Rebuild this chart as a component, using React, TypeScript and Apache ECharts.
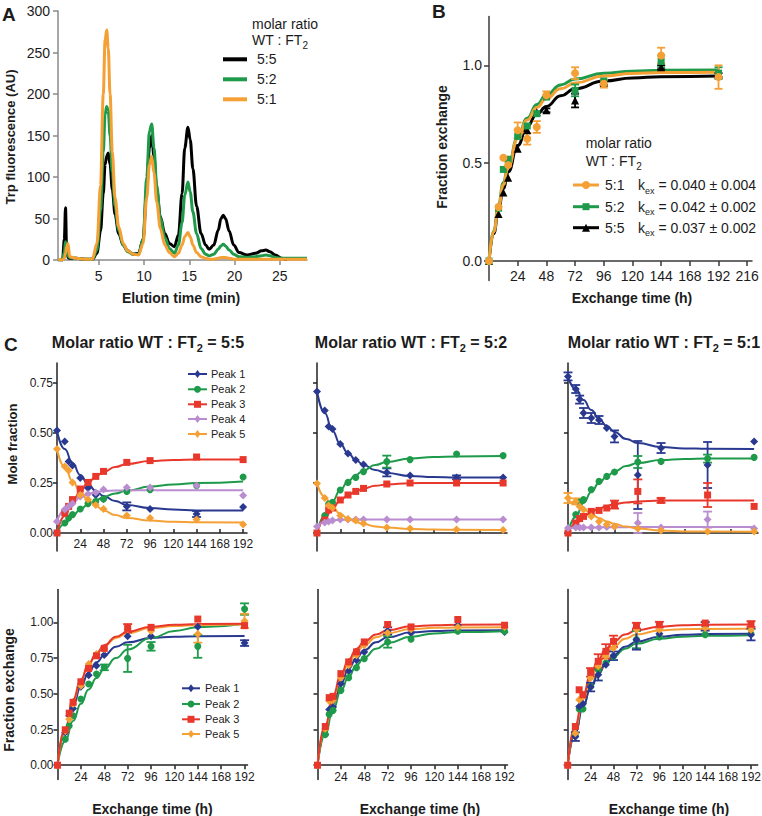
import React, { useEffect, useRef } from "react";
import * as echarts from "echarts";

const FONT = "'Liberation Sans', Arial, Helvetica, sans-serif";
const INK = "#1c1c1c";

// ---------------- Panel A : chromatograms ----------------
const A_TIME = [0.5, 1.0, 1.2, 1.33, 1.45, 1.6, 1.8, 2.5, 3.5, 4.3, 4.8, 5.2, 5.5, 5.7, 5.88, 6.05, 6.25, 6.5, 6.8, 7.2, 7.7, 8.2, 8.8, 9.4, 9.9, 10.3, 10.6, 10.85, 11.1, 11.4, 11.8, 12.3, 12.8, 13.35, 13.8, 14.2, 14.5, 14.85, 15.1, 15.4, 15.8, 16.3, 16.8, 17.2, 17.7, 18.2, 18.5, 18.75, 19.0, 19.4, 19.9, 20.5, 21.4, 22.3, 23.0, 23.45, 23.9, 24.5, 25.2, 25.8, 26.5, 28];
const A_55 = [0, 0, 25, 63, 12, 3, 2, 2, 1, 1, 8, 35, 80, 115, 125, 129, 115, 85, 55, 32, 18, 11, 7, 8, 25, 85, 135, 150, 125, 85, 52, 32, 20, 16, 30, 80, 135, 160, 145, 110, 65, 32, 18, 13, 18, 36, 50, 54, 50, 35, 18, 9, 6, 8, 11, 12, 10, 6, 2, 0, null, null];
const A_52 = [1, 0, 10, 22, 14, 5, 3, 2, 1, 1, 12, 60, 130, 175, 185, 180, 150, 105, 65, 36, 18, 10, 7, 7, 25, 100, 155, 164, 135, 90, 50, 27, 14, 8, 18, 45, 78, 94, 82, 58, 32, 14, 7, 5, 7, 13, 17, 19, 17, 12, 7, 4, 3, 4, 5, 6, 5, 3, 2, 2, 2, 2];
const A_51 = [1, 0, 2, 8, 16, 20, 4, 2, 1, 1, 20, 90, 200, 265, 277, 255, 200, 130, 75, 40, 20, 11, 7, 6, 20, 75, 115, 125, 105, 70, 38, 18, 9, 4, 8, 18, 28, 33, 28, 18, 9, 4, 2, 1, 1, 2, 3, 3, 3, 2, 1, 1, 1, 1, 1, 1, 1, 1, 1, 1, 1, 1];
const A_X_TICKS = [5, 10, 15, 20, 25];
const A_Y_TICKS = [0, 50, 100, 150, 200, 250, 300];
const A_NAMES = ["5:5", "5:2", "5:1"];

// ---------------- Panel B : fraction exchange by ratio ----------------
const B_T = [0, 8, 12, 16, 24, 32, 40, 48, 72, 96, 144, 192];
const B_51 = [0, 0.276, 0.528, 0.49, 0.668, 0.625, 0.685, 0.847, 0.96, 0.906, 1.05, 0.94];
const B_51_SD = [0, 0, 0, 0, 0.04, 0.03, 0.03, 0.02, 0.03, 0.02, 0.04, 0.06];
const B_52 = [0, 0.27, 0.468, 0.52, 0.637, 0.69, 0.753, 0.838, 0.872, 0.92, 1.02, 0.96];
const B_52_SD = [0, 0, 0, 0, 0, 0, 0, 0, 0.03, 0, 0.03, 0.03];
const B_55 = [0, 0.24, 0.35, 0.425, 0.574, 0.668, 0.76, 0.77, 0.82, 0.91, 0.99, 0.95];
const B_55_SD = [0, 0, 0, 0, 0, 0, 0, 0.01, 0.035, 0.01, 0.01, 0.01];
const B_FIT_T = [0, 4, 8, 12, 16, 24, 32, 40, 48, 60, 72, 96, 120, 144, 192];
const B_51_FIT = [0, 0.15, 0.28, 0.39, 0.48, 0.625, 0.72, 0.785, 0.83, 0.88, 0.91, 0.945, 0.958, 0.963, 0.965];
const B_52_FIT = [0, 0.155, 0.29, 0.4, 0.49, 0.63, 0.73, 0.8, 0.85, 0.9, 0.93, 0.96, 0.97, 0.975, 0.976];
const B_55_FIT = [0, 0.14, 0.265, 0.37, 0.455, 0.59, 0.69, 0.75, 0.79, 0.845, 0.88, 0.92, 0.935, 0.942, 0.945];
const B_X_TICKS = [24, 48, 72, 96, 120, 144, 168, 192, 216];
const B_Y_TICKS = [0, 0.5, 1.0];
const B_KEX = ["k_ex = 0.040 ± 0.004", "k_ex = 0.042 ± 0.002", "k_ex = 0.037 ± 0.002"];

// ---------------- Panel C ----------------
const PT = [0, 8, 12, 16, 24, 32, 40, 48, 72, 96, 144, 192];
const CT = [0, 8, 16, 24, 32, 40, 48, 60, 72, 96, 120, 144, 192];
const NO_SD = [0, 0, 0, 0, 0, 0, 0, 0, 0, 0, 0, 0];
const C_X_TICKS = [24, 48, 72, 96, 120, 144, 168, 192];
const C_MOLE_TICKS = [0, 0.25, 0.5, 0.75];
const C_FRAC_TICKS = [0, 0.25, 0.5, 0.75, 1.0];
const C_TITLES = ["5:5", "5:2", "5:1"];

// C1: mole fraction, 5:5
const C1_P1 = [0.512, 0.458, 0.358, 0.338, 0.275, 0.225, 0.19, 0.17, 0.133, 0.12, 0.095, 0.13];
const C1_P1_SD = [0, 0, 0, 0, 0, 0, 0, 0, 0.02, 0, 0.015, 0];
const C1_P2 = [0, 0.05, 0.075, 0.092, 0.12, 0.147, 0.158, 0.17, 0.208, 0.217, 0.237, 0.28];
const C1_P3 = [0, 0.1, 0.133, 0.167, 0.22, 0.253, 0.283, 0.308, 0.353, 0.362, 0.38, 0.367];
const C1_P4 = [0.058, 0.117, 0.133, 0.147, 0.183, 0.195, 0.203, 0.217, 0.228, 0.228, 0.237, 0.187];
const C1_P5 = [0.42, 0.333, 0.313, 0.253, 0.19, 0.167, 0.14, 0.12, 0.087, 0.075, 0.067, 0.042];
const C1_P1_FIT = [0.51, 0.42, 0.35, 0.29, 0.245, 0.21, 0.185, 0.16, 0.14, 0.125, 0.117, 0.113, 0.112];
const C1_P2_FIT = [0, 0.045, 0.085, 0.118, 0.143, 0.163, 0.18, 0.198, 0.212, 0.232, 0.243, 0.25, 0.258];
const C1_P3_FIT = [0, 0.085, 0.155, 0.21, 0.25, 0.283, 0.305, 0.33, 0.345, 0.36, 0.365, 0.367, 0.368];
const C1_P4_FIT = [0.06, 0.115, 0.15, 0.178, 0.195, 0.205, 0.21, 0.212, 0.213, 0.214, 0.214, 0.214, 0.214];
const C1_P5_FIT = [0.42, 0.33, 0.26, 0.205, 0.165, 0.135, 0.113, 0.09, 0.075, 0.062, 0.056, 0.054, 0.053];

// C2: mole fraction, 5:2
const C2_P1 = [0.707, 0.612, 0.532, 0.52, 0.445, 0.398, 0.365, 0.342, 0.303, 0.287, 0.278, 0.278];
const C2_P1_SD = [0, 0, 0, 0, 0, 0, 0, 0, 0.02, 0, 0.01, 0];
const C2_P2 = [0, 0.087, 0.145, 0.153, 0.215, 0.253, 0.278, 0.307, 0.357, 0.367, 0.395, 0.387];
const C2_P2_SD = [0, 0, 0, 0, 0, 0, 0, 0, 0.03, 0, 0, 0];
const C2_P3 = [0, 0.065, 0.115, 0.125, 0.165, 0.19, 0.208, 0.223, 0.245, 0.25, 0.25, 0.25];
const C2_P4 = [0.032, 0.053, 0.058, 0.062, 0.067, 0.067, 0.067, 0.067, 0.067, 0.067, 0.067, 0.067];
const C2_P5 = [0.248, 0.175, 0.137, 0.125, 0.087, 0.07, 0.062, 0.048, 0.028, 0.023, 0.017, 0.015];
const C2_P1_FIT = [0.71, 0.6, 0.51, 0.445, 0.4, 0.365, 0.34, 0.315, 0.3, 0.285, 0.28, 0.278, 0.277];
const C2_P2_FIT = [0, 0.085, 0.16, 0.215, 0.258, 0.29, 0.313, 0.34, 0.355, 0.372, 0.38, 0.383, 0.385];
const C2_P3_FIT = [0, 0.07, 0.125, 0.163, 0.19, 0.208, 0.222, 0.236, 0.243, 0.249, 0.25, 0.25, 0.25];
const C2_P4_FIT = [0.03, 0.055, 0.063, 0.066, 0.067, 0.067, 0.067, 0.067, 0.067, 0.067, 0.067, 0.067, 0.067];
const C2_P5_FIT = [0.25, 0.18, 0.13, 0.095, 0.072, 0.055, 0.045, 0.033, 0.027, 0.02, 0.017, 0.016, 0.015];

// C3: mole fraction, 5:1
const C3_P1 = [0.783, 0.72, 0.667, 0.6, 0.575, 0.565, 0.525, 0.483, 0.29, 0.425, 0.34, 0.458];
const C3_P1_SD = [0.02, 0.02, 0.02, 0.025, 0.025, 0.02, 0, 0.03, 0.17, 0.025, 0.115, 0];
const C3_P2 = [0, 0.092, 0.155, 0.167, 0.217, 0.258, 0.283, 0.305, 0.355, 0.358, 0.372, 0.378];
const C3_P2_SD = [0, 0, 0, 0, 0, 0, 0, 0, 0.03, 0, 0.02, 0];
const C3_P3 = [0, 0.05, 0.072, 0.083, 0.108, 0.113, 0.125, 0.142, 0.208, 0.163, 0.19, 0.133];
const C3_P3_SD = [0, 0, 0, 0, 0, 0, 0, 0.02, 0.06, 0.012, 0.06, 0];
const C3_P4 = [0.025, 0.028, 0.028, 0.028, 0.028, 0.028, 0.03, 0.032, 0.05, 0.028, 0.067, 0.022];
const C3_P4_SD = [0, 0, 0, 0, 0, 0, 0, 0, 0.05, 0, 0.04, 0];
const C3_P5 = [0.175, 0.158, 0.133, 0.117, 0.083, 0.058, 0.042, 0.033, 0.022, 0.012, 0.008, 0.008];
const C3_P5_SD = [0.025, 0.015, 0, 0, 0, 0, 0, 0, 0, 0, 0, 0];
const C3_P1_FIT = [0.78, 0.72, 0.665, 0.615, 0.57, 0.535, 0.505, 0.47, 0.45, 0.43, 0.423, 0.421, 0.42];
const C3_P2_FIT = [0, 0.08, 0.15, 0.205, 0.25, 0.283, 0.308, 0.335, 0.35, 0.365, 0.37, 0.372, 0.373];
const C3_P3_FIT = [0, 0.045, 0.08, 0.105, 0.122, 0.135, 0.145, 0.153, 0.158, 0.162, 0.163, 0.163, 0.163];
const C3_P4_FIT = [0.025, 0.026, 0.027, 0.028, 0.028, 0.029, 0.029, 0.029, 0.03, 0.03, 0.03, 0.03, 0.03];
const C3_P5_FIT = [0.17, 0.145, 0.12, 0.095, 0.075, 0.058, 0.045, 0.032, 0.022, 0.012, 0.008, 0.007, 0.006];

// C4: fraction exchange, 5:5
const C4_P1 = [0, 0.229, 0.346, 0.397, 0.549, 0.63, 0.696, 0.771, 0.902, 0.902, 0.97, 0.855];
const C4_P1_SD = [0, 0, 0, 0, 0, 0, 0, 0, 0, 0, 0, 0.02];
const C4_P2 = [0, 0.182, 0.276, 0.346, 0.463, 0.568, 0.638, 0.685, 0.748, 0.832, 0.832, 1.093];
const C4_P2_SD = [0, 0, 0, 0, 0, 0, 0, 0.02, 0.095, 0.03, 0.08, 0.04];
const C4_P3 = [0, 0.248, 0.364, 0.44, 0.584, 0.678, 0.766, 0.818, 0.958, 0.965, 1.023, 0.977];
const C4_P3_SD = [0, 0, 0, 0, 0, 0, 0, 0, 0.03, 0, 0, 0];
const C4_P5 = [0, 0.24, 0.322, 0.428, 0.556, 0.708, 0.778, 0.813, 0.953, 0.94, 0.918, 1.01];
const C4_P5_SD = [0, 0, 0, 0, 0, 0, 0, 0, 0, 0, 0.06, 0.05];
const C4_P1_FIT = [0, 0.24, 0.42, 0.55, 0.65, 0.72, 0.77, 0.83, 0.86, 0.89, 0.9, 0.903, 0.905];
const C4_P2_FIT = [0, 0.17, 0.31, 0.43, 0.53, 0.61, 0.675, 0.75, 0.81, 0.89, 0.94, 0.965, 0.99];
const C4_P3_FIT = [0, 0.26, 0.46, 0.6, 0.71, 0.785, 0.84, 0.9, 0.935, 0.97, 0.983, 0.988, 0.99];
const C4_P5_FIT = [0, 0.25, 0.45, 0.595, 0.705, 0.78, 0.835, 0.89, 0.925, 0.96, 0.975, 0.982, 0.985];

// C5: fraction exchange, 5:2
const C5_P1 = [0, 0.215, 0.39, 0.407, 0.571, 0.66, 0.734, 0.793, 0.94, 0.926, 0.98, 0.933];
const C5_P1_SD = [0, 0, 0, 0, 0, 0, 0, 0, 0.025, 0, 0, 0];
const C5_P2 = [0, 0.215, 0.356, 0.384, 0.524, 0.613, 0.683, 0.746, 0.863, 0.882, 0.938, 0.938];
const C5_P2_SD = [0, 0, 0, 0, 0, 0, 0, 0, 0.04, 0, 0, 0];
const C5_P3 = [0, 0.271, 0.473, 0.482, 0.641, 0.723, 0.793, 0.863, 0.985, 0.968, 1.02, 0.98];
const C5_P5 = [0, 0.255, 0.449, 0.454, 0.613, 0.7, 0.77, 0.84, 0.926, 0.952, 0.968, 0.968];
const C5_P1_FIT = [0, 0.24, 0.43, 0.57, 0.675, 0.75, 0.805, 0.86, 0.895, 0.93, 0.94, 0.943, 0.945];
const C5_P2_FIT = [0, 0.22, 0.39, 0.52, 0.62, 0.7, 0.755, 0.815, 0.855, 0.9, 0.922, 0.932, 0.938];
const C5_P3_FIT = [0, 0.28, 0.49, 0.635, 0.74, 0.815, 0.865, 0.915, 0.945, 0.972, 0.98, 0.983, 0.985];
const C5_P5_FIT = [0, 0.265, 0.465, 0.61, 0.715, 0.79, 0.84, 0.895, 0.925, 0.953, 0.962, 0.964, 0.965];

// C6: fraction exchange, 5:1
const C6_P1 = [0, 0.2, 0.411, 0.43, 0.547, 0.633, 0.703, 0.766, 0.879, 0.92, 0.972, 0.914];
const C6_P1_SD = [0, 0.03, 0, 0, 0.03, 0.04, 0, 0.03, 0.07, 0, 0.03, 0.04];
const C6_P2 = [0, 0.21, 0.393, 0.393, 0.551, 0.668, 0.715, 0.762, 0.879, 0.897, 0.914, 0.92];
const C6_P2_SD = [0, 0, 0, 0, 0, 0, 0, 0, 0.06, 0, 0, 0];
const C6_P3 = [0, 0.271, 0.528, 0.493, 0.65, 0.727, 0.797, 0.867, 0.977, 0.984, 0.995, 0.988];
const C6_P3_SD = [0, 0, 0, 0, 0.03, 0.05, 0.05, 0.04, 0.02, 0.02, 0, 0.02];
const C6_P5 = [0, 0.224, 0.458, 0.493, 0.61, 0.692, 0.762, 0.82, 0.949, 0.949, 0.96, 0.949];
const C6_P1_FIT = [0, 0.23, 0.41, 0.54, 0.64, 0.715, 0.77, 0.83, 0.865, 0.9, 0.913, 0.918, 0.92];
const C6_P2_FIT = [0, 0.23, 0.41, 0.54, 0.635, 0.71, 0.76, 0.815, 0.85, 0.885, 0.9, 0.906, 0.91];
const C6_P3_FIT = [0, 0.28, 0.49, 0.635, 0.74, 0.815, 0.865, 0.915, 0.945, 0.97, 0.98, 0.984, 0.985];
const C6_P5_FIT = [0, 0.26, 0.46, 0.6, 0.705, 0.78, 0.83, 0.885, 0.915, 0.943, 0.952, 0.954, 0.955];

// ---------------- styles ----------------
const COL = {
  black: "#000000",
  green: "#1e9a4a",
  orange: "#f5a035",
  p1: "#2a3990",
  p2: "#1e9a4a",
  p3: "#e8382b",
  p4: "#b98dd0",
  p5: "#f5a035",
};
const PEAK_STYLE: any = {
  1: { color: COL.p1, symbol: "diamond", size: 8 },
  2: { color: COL.p2, symbol: "circle", size: 7 },
  3: { color: COL.p3, symbol: "rect", size: 7 },
  4: { color: COL.p4, symbol: "diamond", size: 8 },
  5: { color: COL.p5, symbol: "diamond", size: 8 },
};

const zip = (xs: number[], ys: (number | null)[]) =>
  xs.map((x, i) => [x, ys[i]]).filter((d) => d[1] !== null && d[1] !== undefined);

function errRender(color: string, cap: number, lw: number) {
  return (params: any, api: any) => {
    const x = api.value(0);
    const y = api.value(1);
    const e = api.value(2);
    if (!e) return null;
    const a = api.coord([x, y + e]);
    const b = api.coord([x, y - e]);
    const st = { stroke: color, lineWidth: lw };
    return {
      type: "group",
      children: [
        { type: "line", shape: { x1: a[0], y1: a[1], x2: b[0], y2: b[1] }, style: st },
        { type: "line", shape: { x1: a[0] - cap, y1: a[1], x2: a[0] + cap, y2: a[1] }, style: st },
        { type: "line", shape: { x1: b[0] - cap, y1: b[1], x2: b[0] + cap, y2: b[1] }, style: st },
      ],
    };
  };
}

function dataSeries(gi: number, name: string, color: string, symbol: string, size: number, ts: number[], pts: number[], sd: number[], fitT: number[], fit: number[], lw: number, cap: number) {
  return [
    {
      type: "line", name, xAxisIndex: gi, yAxisIndex: gi, data: zip(fitT, fit),
      showSymbol: false, symbol: "none", smooth: 0.5, smoothMonotone: "x",
      lineStyle: { color, width: lw }, z: 2, silent: true,
    },
    {
      type: "custom", name, xAxisIndex: gi, yAxisIndex: gi,
      dimensions: ["t", "v", "sd"], encode: { x: 0, y: 1 },
      data: ts.map((t, i) => [t, pts[i], sd[i]]).filter((d) => d[2] > 0),
      renderItem: errRender(color, cap, 1.8), z: 3, silent: true,
    },
    {
      type: "scatter", name, xAxisIndex: gi, yAxisIndex: gi, data: zip(ts, pts),
      symbol, symbolSize: size, itemStyle: { color, opacity: 1 }, z: 4, silent: true,
    },
  ];
}

function axis(o: any) {
  return {
    type: "value",
    gridIndex: o.grid,
    min: o.min,
    max: o.max,
    offset: o.offset ?? 0,
    axisLine: { show: true, onZero: false, lineStyle: { color: o.color, width: o.lw ?? 1.5 } },
    axisTick: {
      show: true, inside: !!o.inside, length: o.tickLen ?? 5, customValues: o.ticks,
      lineStyle: { color: o.color, width: o.lw ?? 1.5 },
    },
    axisLabel: {
      show: o.labels !== false, customValues: o.ticks, formatter: o.fmt,
      fontSize: o.fs, fontFamily: FONT, color: INK, margin: o.margin,
    },
    splitLine: { show: false },
  };
}

const txt = (x: number, y: number, text: string, size: number, weight = "normal", align = "left", rotation = 0) => ({
  type: "text", x, y, rotation, z: 100,
  style: { text, fontSize: size, fontWeight: weight, fontFamily: FONT, fill: INK, align, verticalAlign: "middle" },
});

const subTxt = (x: number, y: number, pre: string, sub: string, post: string, size: number, subSize: number, weight = "normal", align = "left") => ({
  type: "text", x, y, z: 100,
  style: {
    text: `{n|${pre}}{s|${sub}}` + (post ? `{n|${post}}` : ""),
    align, verticalAlign: "middle",
    rich: {
      n: { fontSize: size, fontWeight: weight, fontFamily: FONT, fill: INK, lineHeight: Math.round(size * 1.4) },
      s: { fontSize: subSize, fontWeight: weight, fontFamily: FONT, fill: INK, lineHeight: 10, verticalAlign: "bottom" },
    },
  },
});

function marker(kind: string, cx: number, cy: number, size: number, color: string) {
  const h = size / 2;
  if (kind === "circle") return { type: "circle", shape: { cx, cy, r: h }, style: { fill: color }, z: 101 };
  if (kind === "rect") return { type: "rect", shape: { x: cx - h, y: cy - h, width: size, height: size }, style: { fill: color }, z: 101 };
  if (kind === "triangle") return { type: "polygon", shape: { points: [[cx, cy - h], [cx + h, cy + h], [cx - h, cy + h]] }, style: { fill: color }, z: 101 };
  return { type: "polygon", shape: { points: [[cx, cy - h], [cx + h * 0.75, cy], [cx, cy + h], [cx - h * 0.75, cy]] }, style: { fill: color }, z: 101 };
}

const legLine = (x1: number, x2: number, y: number, color: string, lw: number) => ({
  type: "line", shape: { x1, y1: y, x2, y2: y }, style: { stroke: color, lineWidth: lw }, z: 100,
});

function buildOption() {
  // grid geometry
  const B_H = 264.2, B_MIN = -0.1, B_MAX = 1.25;
  const CT_H = 188, CT_MIN = -0.09, CT_MAX = 0.85;
  const CB_H = 190, CB_MIN = -0.1, CB_MAX = 1.23;
  const grids = [
    { left: 58, top: 11, width: 249, height: 249 },
    { left: 489, top: 16.4, width: 263, height: B_H },
    { left: 57, top: 363, width: 190, height: CT_H },
    { left: 317, top: 363, width: 190, height: CT_H },
    { left: 568, top: 363, width: 190, height: CT_H },
    { left: 57.5, top: 589.5, width: 190, height: CB_H },
    { left: 317.5, top: 589.5, width: 190, height: CB_H },
    { left: 567.7, top: 589.5, width: 190, height: CB_H },
  ].map((g) => ({ ...g, containLabel: false, outerBoundsMode: "none", show: false }));
  // shift x axes up so they cross the y axis at 0 (y axes extend below 0)
  const bOff = -(-B_MIN / (B_MAX - B_MIN)) * B_H;
  const ctOff = -(-CT_MIN / (CT_MAX - CT_MIN)) * CT_H;
  const cbOff = -(-CB_MIN / (CB_MAX - CB_MIN)) * CB_H;

  const xAxes: any[] = [
    axis({ grid: 0, min: 0.5, max: 28, color: "#8a8a8a", ticks: A_X_TICKS, fs: 14, margin: 9, tickLen: 5 }),
    axis({ grid: 1, min: 0, max: 220, color: "#3a3a3a", ticks: B_X_TICKS, fs: 14, margin: 8, tickLen: 5, offset: bOff }),
  ];
  const yAxes: any[] = [
    axis({ grid: 0, min: 0, max: 300, color: "#8a8a8a", ticks: A_Y_TICKS, fs: 14, margin: 8, tickLen: 5 }),
    axis({ grid: 1, min: B_MIN, max: B_MAX, color: "#3a3a3a", ticks: B_Y_TICKS, fs: 14, margin: 7, tickLen: 5, fmt: (v: number) => v.toFixed(1) }),
  ];
  for (let i = 0; i < 3; i++) {
    xAxes.push(axis({ grid: 2 + i, min: 0, max: 196, color: "#222", ticks: C_X_TICKS, fs: 12, margin: 5, tickLen: 4, inside: true, labels: i === 0, offset: ctOff }));
    yAxes.push(axis({ grid: 2 + i, min: CT_MIN, max: CT_MAX, color: "#222", ticks: C_MOLE_TICKS, fs: 12, margin: 4, tickLen: 4, labels: i === 0, fmt: (v: number) => v.toFixed(2) }));
  }
  const bottomMax = [195, 195, 199];
  for (let i = 0; i < 3; i++) {
    xAxes.push(axis({ grid: 5 + i, min: 0, max: bottomMax[i], color: "#222", ticks: C_X_TICKS, fs: 12, margin: 6, tickLen: 4, offset: cbOff }));
    yAxes.push(axis({ grid: 5 + i, min: CB_MIN, max: CB_MAX, color: "#222", ticks: C_FRAC_TICKS, fs: 12, margin: 4, tickLen: 4, labels: i === 0, fmt: (v: number) => v.toFixed(2) }));
  }

  const series: any[] = [];
  // Panel A
  const aCols = [COL.black, COL.green, COL.orange];
  [A_55, A_52, A_51].forEach((vals, k) => {
    series.push({
      type: "line", name: "A " + A_NAMES[k], xAxisIndex: 0, yAxisIndex: 0,
      data: zip(A_TIME, vals), showSymbol: false, symbol: "none",
      smooth: 0.35, smoothMonotone: "x", lineStyle: { color: aCols[k], width: 3 }, z: 2 + k, silent: true,
    });
  });
  // Panel B
  series.push(...dataSeries(1, "B 5:5", COL.black, "triangle", 8, B_T, B_55, B_55_SD, B_FIT_T, B_55_FIT, 3, 4));
  series.push(...dataSeries(1, "B 5:2", COL.green, "rect", 7, B_T, B_52, B_52_SD, B_FIT_T, B_52_FIT, 3, 4));
  series.push(...dataSeries(1, "B 5:1", COL.orange, "circle", 8, B_T, B_51, B_51_SD, B_FIT_T, B_51_FIT, 3, 4));

  // Panel C
  const C_SETS: any[] = [
    { gi: 2, peaks: [[1, C1_P1, C1_P1_SD, C1_P1_FIT], [2, C1_P2, NO_SD, C1_P2_FIT], [3, C1_P3, NO_SD, C1_P3_FIT], [4, C1_P4, NO_SD, C1_P4_FIT], [5, C1_P5, NO_SD, C1_P5_FIT]] },
    { gi: 3, peaks: [[1, C2_P1, C2_P1_SD, C2_P1_FIT], [2, C2_P2, C2_P2_SD, C2_P2_FIT], [3, C2_P3, NO_SD, C2_P3_FIT], [4, C2_P4, NO_SD, C2_P4_FIT], [5, C2_P5, NO_SD, C2_P5_FIT]] },
    { gi: 4, peaks: [[1, C3_P1, C3_P1_SD, C3_P1_FIT], [2, C3_P2, C3_P2_SD, C3_P2_FIT], [3, C3_P3, C3_P3_SD, C3_P3_FIT], [4, C3_P4, C3_P4_SD, C3_P4_FIT], [5, C3_P5, C3_P5_SD, C3_P5_FIT]] },
    { gi: 5, peaks: [[1, C4_P1, C4_P1_SD, C4_P1_FIT], [2, C4_P2, C4_P2_SD, C4_P2_FIT], [5, C4_P5, C4_P5_SD, C4_P5_FIT], [3, C4_P3, C4_P3_SD, C4_P3_FIT]] },
    { gi: 6, peaks: [[1, C5_P1, C5_P1_SD, C5_P1_FIT], [2, C5_P2, C5_P2_SD, C5_P2_FIT], [5, C5_P5, NO_SD, C5_P5_FIT], [3, C5_P3, NO_SD, C5_P3_FIT]] },
    { gi: 7, peaks: [[2, C6_P2, C6_P2_SD, C6_P2_FIT], [1, C6_P1, C6_P1_SD, C6_P1_FIT], [5, C6_P5, NO_SD, C6_P5_FIT], [3, C6_P3, C6_P3_SD, C6_P3_FIT]] },
  ];
  C_SETS.forEach((set) => {
    set.peaks.forEach((p: any) => {
      const st = PEAK_STYLE[p[0]];
      series.push(...dataSeries(set.gi, "Peak " + p[0], st.color, st.symbol, st.size, PT, p[1], p[2], CT, p[3], 2, 4.5));
    });
  });

  // ---------------- graphic: labels, titles, legends ----------------
  const g: any[] = [];
  g.push(txt(2, 14, "A", 19, "bold"));
  g.push(txt(432, 11.5, "B", 19, "bold"));
  g.push(txt(4, 344, "C", 19, "bold"));

  // axis titles
  g.push(txt(10, 137, "Trp fluorescence (AU)", 13, "bold", "center", Math.PI / 2));
  g.push(txt(181, 298, "Elution time (min)", 14, "bold", "center"));
  g.push(txt(442, 147, "Fraction exchange", 14, "bold", "center", Math.PI / 2));
  g.push(txt(632, 298, "Exchange time (h)", 14, "bold", "center"));
  g.push(txt(12.5, 444, "Mole fraction", 13, "bold", "center", Math.PI / 2));
  g.push(txt(8.5, 690, "Fraction exchange", 14, "bold", "center", Math.PI / 2));
  [152.5, 420, 669].forEach((x) => g.push(txt(x, 808.5, "Exchange time (h)", 14, "bold", "center")));

  // C titles
  [148, 411, 664].forEach((x, i) => g.push(subTxt(x, 342.5, "Molar ratio WT : FT", "2", " = " + C_TITLES[i], 16, 11, "bold", "center")));

  // Legend A
  g.push(txt(252, 24, "molar ratio", 14));
  g.push(subTxt(252, 40, "WT : FT", "2", "", 14, 10));
  [59.3, 79.3, 99.3].forEach((y, k) => {
    g.push(legLine(223, 247, y, aCols[k], 4));
    g.push(txt(257, y, A_NAMES[k], 14));
  });

  // Legend B
  g.push(txt(585.7, 143.3, "molar ratio", 14));
  g.push(subTxt(585.7, 161, "WT : FT", "2", "", 14, 10));
  const bRows = [
    { y: 185, c: COL.orange, m: "circle", s: 8, n: "5:1", k: B_KEX[0] },
    { y: 206.7, c: COL.green, m: "rect", s: 7, n: "5:2", k: B_KEX[1] },
    { y: 227.7, c: COL.black, m: "triangle", s: 8, n: "5:5", k: B_KEX[2] },
  ];
  bRows.forEach((r) => {
    g.push(legLine(573, 599, r.y, r.c, 3));
    g.push(marker(r.m, 586, r.y, r.s, r.c));
    g.push(txt(605, r.y, r.n, 14));
    const parts = r.k.split("_ex");
    g.push(subTxt(638, r.y, parts[0], "ex", parts[1], 14, 9));
  });

  // Legend C (mole fraction)
  [374, 389.3, 404.3, 419, 434].forEach((y, k) => {
    const st = PEAK_STYLE[k + 1];
    g.push(legLine(188, 207, y, st.color, 2));
    g.push(marker(st.symbol, 197.5, y, st.size, st.color));
    g.push(txt(211, y, "Peak " + (k + 1), 11));
  });
  // Legend C (fraction exchange)
  [[688.3, 1], [704, 2], [719.3, 3], [734, 5]].forEach(([y, p]) => {
    const st = PEAK_STYLE[p];
    g.push(legLine(182, 200, y, st.color, 2));
    g.push(marker(st.symbol, 191, y, st.size, st.color));
    g.push(txt(205, y, "Peak " + p, 11));
  });

  return {
    animation: false,
    backgroundColor: "#ffffff",
    textStyle: { fontFamily: FONT },
    grid: grids,
    xAxis: xAxes,
    yAxis: yAxes,
    series,
    graphic: { elements: g },
  };
}

export default function App() {
  const ref = useRef<HTMLDivElement>(null);
  useEffect(() => {
    const chart = echarts.init(ref.current as HTMLDivElement, null, { renderer: "svg" });
    chart.setOption(buildOption() as any);
    return () => chart.dispose();
  }, []);
  return (
    <div
      ref={ref}
      style={{ position: "absolute", left: 0, top: 0, width: 762, height: 816, background: "#ffffff" }}
    />
  );
}
